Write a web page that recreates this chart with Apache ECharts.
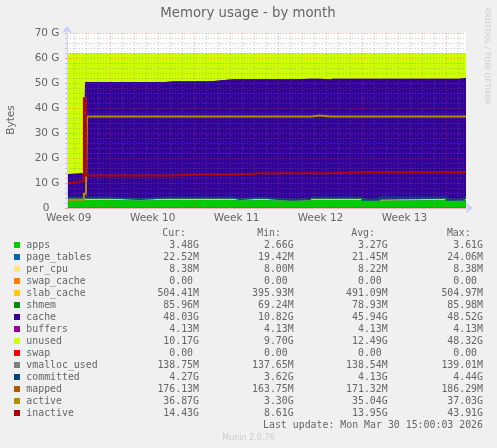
<!DOCTYPE html>
<html><head><meta charset="utf-8">
<style>html,body{margin:0;padding:0;background:#f0f0f0}#c{width:497px;height:448px}</style>
<script src="https://cdn.jsdelivr.net/npm/echarts@6/dist/echarts.min.js"></script>
</head><body><div id="c"></div>
<script>
// days relative to the start of Week 10
var days=[-3.64,-3.39,-2.23,-2.14,-2.06,-1.97,0,2.44,4.53,5.36,7.44,8.61,10.19,10.78,12.61,14,15.03,15.11,15.36,15.44,16.61,16.78,17.4,18.36,18.53,21,22.36,28,29.11,29.44,29.63];
var apps=[3.2,3.2,3.2,3.2,3.2,3.2,3.0,3.2,3.2,3.2,3.2,3.2,3.0,3.2,3.0,2.9,2.9,2.9,3.0,3.0,3.2,3.2,3.2,3.2,3.2,2.9,3.2,2.9,2.9,3.2,3.2];
var page_tables=[.022,.022,.022,.022,.022,.022,.022,.022,.022,.022,.022,.022,.022,.022,.022,.022,.022,.022,.022,.022,.022,.022,.022,.022,.022,.022,.022,.022,.022,.022,.022];
var per_cpu=[.008,.008,.008,.008,.008,.008,.008,.008,.008,.008,.008,.008,.008,.008,.008,.008,.008,.008,.008,.008,.008,.008,.008,.008,.008,.008,.008,.008,.008,.008,.008];
var swap_cache=[0,0,0,0,0,0,0,0,0,0,0,0,0,0,0,0,0,0,0,0,0,0,0,0,0,0,0,0,0,0,0];
var slab_cache=[.5,.5,.5,.5,.5,.5,.4,.5,.5,.5,.5,.5,.4,.5,.4,.4,.4,.4,.4,.4,.5,.5,.5,.5,.5,.4,.5,.4,.4,.5,.5];
var shmem=[.08,.08,.08,.08,.08,.08,.08,.08,.08,.08,.08,.08,.08,.08,.08,.08,.08,.08,.08,.08,.08,.08,.08,.08,.08,.08,.08,.08,.08,.08,.08];
var cache=[9.79,10.19,10.19,46.59,46.59,46.59,46.89,46.59,46.89,46.89,46.99,47.69,47.99,47.69,47.99,48.09,48.29,48.09,47.99,48.19,47.89,47.89,47.69,47.89,47.89,48.29,47.89,48.29,48.59,48.19,48.19];
var buffers=[.004,.004,.004,.004,.004,.004,.004,.004,.004,.004,.004,.004,.004,.004,.004,.004,.004,.004,.004,.004,.004,.004,.004,.004,.004,.004,.004,.004,.004,.004,.004];
var unused=[48.4,48,48,11.6,11.6,11.6,11.6,11.6,11.3,11.3,11.2,10.5,10.5,10.5,10.5,10.5,10.3,10.5,10.5,10.3,10.3,10.3,10.5,10.3,10.3,10.3,10.3,10.3,10,10,10];
var swap=[0,0,0,0,0,0,0,0,0,0,0,0,0,0,0,0,0,0,0,0,0,0,0,0,0,0,0,0,0,0,0];
var vmalloc_used=[.138,.138,.138,.138,.138,.138,.138,.138,.138,.138,.138,.138,.138,.138,.138,.138,.138,.138,.138,.138,.138,.138,.138,.138,.138,.138,.138,.138,.138,.138,.138];
var committed=[4.2,4.2,4.2,4.2,4.2,4.2,3.6,4.2,4.2,4.2,4.2,4.2,3.6,4.2,3.6,3.3,3.3,3.3,3.6,3.6,4.2,4.2,4.2,4.2,4.2,3.3,4.2,3.3,3.3,4.2,4.2];
var mapped=[.17,.17,.17,.17,.17,.17,.17,.17,.17,.17,.17,.17,.17,.17,.17,.17,.17,.17,.17,.17,.17,.17,.17,.17,.17,.17,.17,.17,.17,.17,.17];
var active=[3.3,3.3,5.7,5.7,5.7,36.6,36.6,36.6,36.6,36.6,36.6,36.6,36.6,36.6,36.6,36.6,36.6,36.6,36.6,36.6,36.6,37.0,36.6,36.6,36.6,36.6,36.6,36.6,36.6,36.6,36.6];
var inactive=[10,10.8,43.9,43.9,13,13,13,13,13,13.4,13.4,13.4,13.4,13.9,13.9,13.9,13.9,13.9,13.9,13.9,13.9,13.9,13.9,13.9,14.4,14.4,14.4,14.4,14.4,14.4,14.4];

var names=['apps','page_tables','per_cpu','swap_cache','slab_cache','shmem','cache','buffers','unused','swap','vmalloc_used','committed','mapped','active','inactive'];
var colors=['#00CC00','#0066B3','#FFE680','#FF8000','#FFCC00','#008F00','#330099','#990099','#CCFF00','#FF0000','#808080','#00487D','#B35A00','#B38F00','#B30000'];
var lineWidths=[0,0,0,0,0,0,0,0,0,0,1,2,1,2,2];
var curVals=['3.48G','22.52M','8.38M','0.00 ','504.41M','85.96M','48.03G','4.13M','10.17G','0.00 ','138.75M','4.27G','176.13M','36.87G','14.43G'];
var minVals=['2.66G','19.42M','8.00M','0.00 ','395.93M','69.24M','10.82G','4.13M','9.70G','0.00 ','137.65M','3.62G','163.75M','3.30G','8.61G'];
var avgVals=['3.27G','21.45M','8.22M','0.00 ','491.09M','78.93M','45.94G','4.13M','12.49G','0.00 ','138.54M','4.13G','171.32M','35.04G','13.95G'];
var maxVals=['3.61G','24.06M','8.38M','0.00 ','504.97M','85.98M','48.52G','4.13M','48.32G','0.00 ','139.01M','4.44G','186.29M','37.03G','43.91G'];
var values=[apps,page_tables,per_cpu,swap_cache,slab_cache,shmem,cache,buffers,unused,swap,vmalloc_used,committed,mapped,active,inactive];
var weekStarts=[0,7,14,21,28];
var weekLabelAt=[-3.5,3.5,10.5,17.5,24.5];
var weekLabels=['Week 09','Week 10','Week 11','Week 12','Week 13'];
var dayTicks=[-3,-2,-1,1,2,3,4,5,6,8,9,10,11,12,13,15,16,17,18,19,20,22,23,24,25,26,27,29];

var AREAS=10;
var running=days.map(function(){return 0;});
var series=names.map(function(n,i){
  var isArea=i<AREAS;
  var pts=[];
  days.forEach(function(d,k){
    var v=values[i][k];
    if(isArea){running[k]+=v;v=running[k];}
    // each sample holds until the next one: a vertical riser at every change
    if(k>0)pts.push([d,pts[pts.length-1][1]]);
    pts.push([d,v]);
  });
  // stacked bands are painted back to front: each one reaches from zero to its running total
  return {name:n,type:'line',symbol:'none',animation:false,silent:true,
    z:isArea?2:3,
    lineStyle:{width:lineWidths[i],color:colors[i],cap:'butt',join:'miter'},
    itemStyle:{color:colors[i]},
    areaStyle:isArea?{color:colors[i],opacity:1,origin:'start'}:null,
    data:pts};
});
var drawn=series.slice(0,AREAS).reverse().concat(series.slice(AREAS));

var TXT='#666',MONO='9.9px "DejaVu Sans Mono"';
var g=[];
function text(x,y,s,font,fill,align,rot){
  var e={type:'text',x:x,y:y,silent:true,style:{text:s,font:font,fill:fill,align:align||'left',verticalAlign:'middle'}};
  if(rot)e.rotation=rot;
  g.push(e);
}
text(248,14,'Memory usage - by month','13.3px "DejaVu Sans"','#666','center');
text(11,120,'Bytes','10.5px "DejaVu Sans"','#666','center',Math.PI/2);
text(487,56,'RRDTOOL / TOBI OETIKER','7.6px "DejaVu Sans"','#ccc','center',-Math.PI/2);
text(186,233.4,'Cur:',MONO,TXT,'right');
text(281,233.4,'Min:',MONO,TXT,'right');
text(375,233.4,'Avg:',MONO,TXT,'right');
text(470.7,233.4,'Max:',MONO,TXT,'right');
names.forEach(function(n,i){
  var y=245+i*12;
  g.push({type:'rect',silent:true,shape:{x:14,y:y-3,width:6,height:6},style:{fill:colors[i]}});
  text(26.3,y+0.7,n,MONO,TXT);
  text(199,y+0.7,curVals[i],MONO,TXT,'right');
  text(293.7,y+0.7,minVals[i],MONO,TXT,'right');
  text(387.7,y+0.7,avgVals[i],MONO,TXT,'right');
  text(483,y+0.7,maxVals[i],MONO,TXT,'right');
});
text(483,425.7,'Last update: Mon Mar 30 15:00:03 2026',MONO,TXT,'right');
text(248.5,437.5,'Munin 2.0.76','8px "DejaVu Sans"','#ccc','center');

var minorLine={show:true,lineStyle:{color:'rgba(127,127,127,0.42)',width:1,type:[1,2]}};
var majorLine={show:true,lineStyle:{color:'rgba(255,60,60,0.45)',width:1,type:[1,2]}};
var chart=echarts.init(document.getElementById('c'),null,{renderer:'canvas'});
chart.setOption({
  backgroundColor:'#f0f0f0',animation:false,
  textStyle:{fontFamily:'"DejaVu Sans"'},
  grid:{left:67,top:33,width:399,height:175,backgroundColor:'#fff',show:true,borderWidth:0,containLabel:false},
  xAxis:[
   {type:'value',min:-3.64,max:29.63,position:'bottom',z:11,
    axisLine:{show:true,onZero:false,lineStyle:{color:'#e8b4b4',width:1}},
    axisTick:{show:true,length:-2,customValues:weekStarts,lineStyle:{color:'rgba(255,60,60,0.6)'}},
    splitLine:majorLine,
    axisLabel:{customValues:weekLabelAt,margin:5,fontSize:10.5,color:'#666',fontFamily:'"DejaVu Sans"',
      formatter:function(v){return weekLabels[weekLabelAt.indexOf(v)]||'';}}},
   {type:'value',min:-3.64,max:29.63,position:'bottom',z:10,
    axisLine:{show:true,onZero:false,symbol:['none','arrow'],symbolSize:[8,7],symbolOffset:[0,7],lineStyle:{color:'#ccccff',width:1}},
    axisTick:{show:true,length:-2,customValues:dayTicks,lineStyle:{color:'rgba(127,127,127,0.5)'}},
    splitLine:minorLine,axisLabel:{show:false}}
  ],
  yAxis:{type:'value',min:0,max:70,interval:10,z:10,
    axisLine:{show:true,onZero:false,symbol:['none','arrow'],symbolSize:[8,7],symbolOffset:[0,7],lineStyle:{color:'#ccccff',width:1}},
    axisTick:{show:true,length:2,lineStyle:{color:'rgba(255,60,60,0.5)'}},
    minorTick:{show:true,splitNumber:5,length:2,lineStyle:{color:'rgba(127,127,127,0.4)'}},
    splitLine:majorLine,minorSplitLine:minorLine,
    axisLabel:{margin:7.5,padding:[2,0,0,0],fontSize:10.5,color:'#666',fontFamily:'"DejaVu Sans"',
      formatter:function(v){return v?v+' G':'0   ';}}},
  series:drawn,
  graphic:{elements:g}
});
</script></body></html>
